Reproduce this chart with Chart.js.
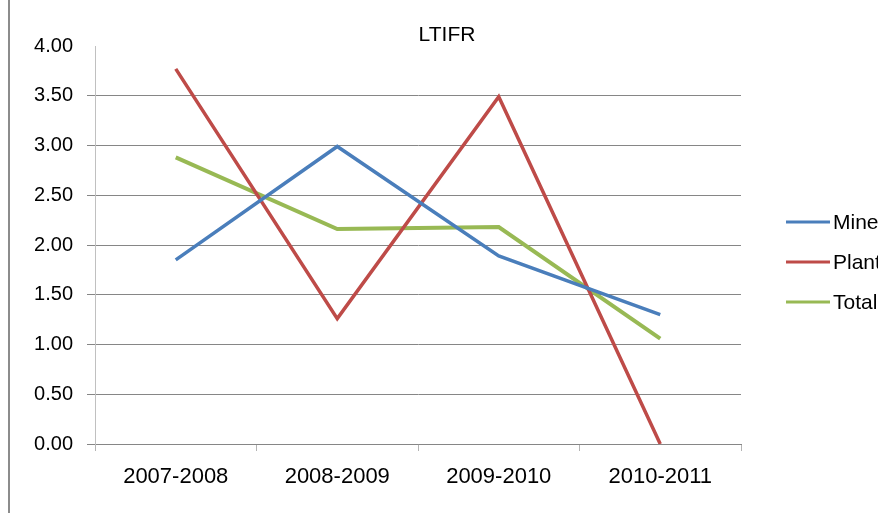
<!DOCTYPE html>
<html>
<head>
<meta charset="utf-8">
<script src="https://cdn.jsdelivr.net/npm/chart.js@4"></script>
<style>
  html, body { margin: 0; padding: 0; background: #ffffff; overflow: hidden; }
  #wrap { width: 878px; height: 513px; position: relative; }
</style>
</head>
<body>
<div id="wrap"><canvas id="ltifr" width="878" height="513"></canvas></div>
<script>
const years = ['2007-2008', '2008-2009', '2009-2010', '2010-2011'];
const mine = [1.85, 2.99, 1.89, 1.30];
const plant = [3.77, 1.26, 3.49, 0.00];
const total = [2.88, 2.16, 2.18, 1.06];
const yTicks = [0, 0.5, 1, 1.5, 2, 2.5, 3, 3.5, 4];

const font = 'Liberation Sans, Arial, sans-serif';

// frame, title and the clipped legend on the right
const decor = {
    id: 'decor',
    beforeDraw(chart) {
        const ctx = chart.ctx;
        ctx.save();
        ctx.strokeStyle = '#8c8c8c';
        ctx.lineWidth = 2;
        ctx.beginPath();
        ctx.moveTo(9, 0);
        ctx.lineTo(9, 513);
        ctx.stroke();
        ctx.restore();
    },
    afterDraw(chart) {
        const ctx = chart.ctx;
        ctx.save();
        ctx.fillStyle = '#000000';
        ctx.font = '21px ' + font;
        ctx.textAlign = 'center';
        ctx.textBaseline = 'middle';
        ctx.fillText('LTIFR', 447, 35);

        ctx.font = '21px ' + font;
        ctx.textAlign = 'left';
        chart.data.datasets.forEach(function (ds, i) {
            const y = 222 + i * 40;
            ctx.strokeStyle = ds.borderColor;
            ctx.lineWidth = 3;
            ctx.beginPath();
            ctx.moveTo(786, y);
            ctx.lineTo(830, y);
            ctx.stroke();
            ctx.fillStyle = '#000000';
            ctx.fillText(ds.label, 833, y + 1);
        });
        ctx.restore();
    }
};

const data = {
    labels: years,
    datasets: [{
        label: 'Mine',
        data: mine,
        borderColor: '#4a7ebb',
        backgroundColor: '#4a7ebb',
        borderWidth: 3.5,
        pointRadius: 0,
        tension: 0
    }, {
        label: 'Plant',
        data: plant,
        borderColor: '#be4b48',
        backgroundColor: '#be4b48',
        borderWidth: 3.5,
        pointRadius: 0,
        tension: 0
    }, {
        label: 'Total',
        data: total,
        borderColor: '#98b954',
        backgroundColor: '#98b954',
        borderWidth: 4,
        pointRadius: 0,
        tension: 0
    }]
};

const config = {
    type: 'line',
    data: data,
    options: {
        responsive: false,
        animation: false,
        events: [],
        layout: {
            padding: { left: 0, right: 137, top: 46, bottom: 9 }
        },
        plugins: {
            legend: { display: false },
            title: { display: false },
            tooltip: { enabled: false }
        },
        scales: {
            x: {
                offset: true,
                afterFit: function (scale) { scale.height = 60; },
                grid: {
                    offset: true,
                    drawOnChartArea: false,
                    drawTicks: true,
                    tickLength: 7,
                    color: '#b4b4b4'
                },
                border: { color: '#868686', width: 1 },
                ticks: {
                    color: '#000000',
                    padding: 13,
                    maxRotation: 0,
                    font: { family: font, size: 22 }
                }
            },
            y: {
                min: 0,
                max: 4,
                afterFit: function (scale) { scale.width = 95; },
                afterBuildTicks: function (scale) {
                    scale.ticks = yTicks.map(function (v) { return { value: v }; });
                },
                grid: {
                    color: function (c) {
                        return c.tick && c.tick.value === 4 ? 'rgba(0,0,0,0)' : '#868686';
                    },
                    tickLength: 8
                },
                border: { color: '#c0c0c0', width: 1 },
                ticks: {
                    color: '#000000',
                    padding: 14,
                    font: { family: font, size: 20 },
                    callback: function (v) { return Number(v).toFixed(2); }
                }
            }
        }
    },
    plugins: [decor]
};

var chartLtifr = new Chart(
    document.getElementById('ltifr'),
    config
);
</script>
</body>
</html>
